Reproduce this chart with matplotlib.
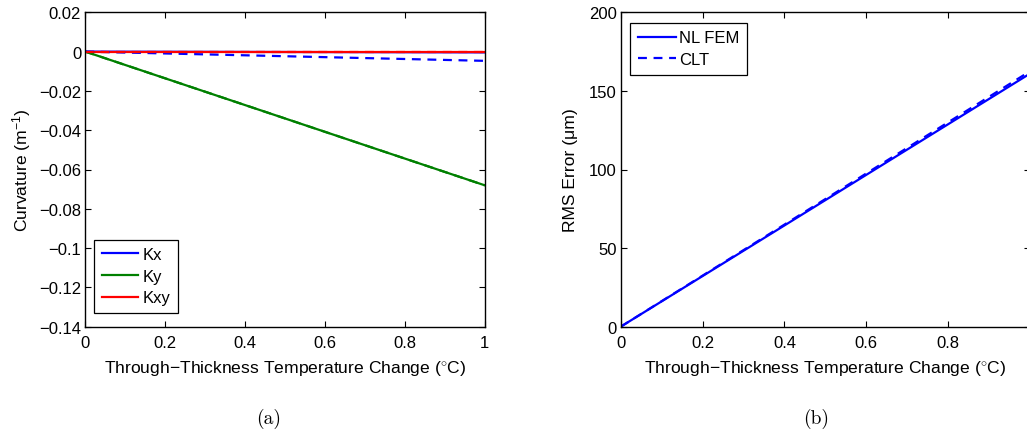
import matplotlib
matplotlib.use("Agg")
import matplotlib.pyplot as plt

# Temperature change (deg C)
temp_change = [0.0, 0.25, 0.5, 0.75, 1.0]

# Curvatures (1/m): nonlinear FEM (solid) and classical laminate theory (dashed)
kx_fem = [0.0, -0.0001, -0.0002, -0.0003, -0.0004]
ky_fem = [0.0, -0.017, -0.034, -0.051, -0.068]
kxy_fem = [0.0, 0.0, 0.0, 0.0, 0.0]
kx_clt = [0.0, -0.00118, -0.00235, -0.00353, -0.0047]
ky_clt = [0.0, -0.017, -0.034, -0.051, -0.068]
kxy_clt = [0.0, 0.0, 0.0, 0.0, 0.0]

# RMS surface error (micrometres)
rms_fem = [0.0, 40.25, 80.5, 120.75, 161.0]
rms_clt = [0.0, 40.6, 81.2, 121.9, 162.5]

curv_ticks = [0.02, 0, -0.02, -0.04, -0.06, -0.08, -0.1, -0.12, -0.14]
curv_ticklabels = ["0.02", "0", "\u22120.02", "\u22120.04", "\u22120.06",
                   "\u22120.08", "\u22120.1", "\u22120.12", "\u22120.14"]
x_ticks_a = [0, 0.2, 0.4, 0.6, 0.8, 1]
x_ticklabels_a = ["0", "0.2", "0.4", "0.6", "0.8", "1"]
x_ticks_b = [0, 0.2, 0.4, 0.6, 0.8]
x_ticklabels_b = ["0", "0.2", "0.4", "0.6", "0.8"]
rms_ticks = [0, 50, 100, 150, 200]

plt.rcParams["font.family"] = ["Liberation Sans", "DejaVu Sans"]
plt.rcParams["mathtext.fontset"] = "custom"
plt.rcParams["mathtext.rm"] = "Liberation Sans"
plt.rcParams["mathtext.it"] = "Liberation Sans:italic"

W, H = 1027, 435
fig = plt.figure(figsize=(W / 100, H / 100), dpi=100)

TICK_FS = 12
LABEL_FS = 12.6
LEG_FS = 12

def px_axes(left, top, right, bottom):
    return fig.add_axes([left / W, 1 - bottom / H, (right - left) / W, (bottom - top) / H])

def style(ax):
    ax.tick_params(direction="in", top=True, right=True, length=4.5, width=0.8,
                   labelsize=TICK_FS, pad=3)
    ax.tick_params(axis="x", pad=6)
    for s in ax.spines.values():
        s.set_linewidth(1.0)

blue, green, red = "#0000ff", "#008000", "#ff0000"
xlabel = "Through\u2212Thickness Temperature Change ($^{\\circ}$C)"

# (a) curvature
ax1 = px_axes(85.3, 13.3, 484.5, 327.7)
ax1.plot(temp_change, kx_fem, color=blue, lw=1.6, label="Kx")
ax1.plot(temp_change, ky_fem, color=green, lw=1.6, label="Ky")
ax1.plot(temp_change, kxy_fem, color=red, lw=1.6, label="Kxy")
ax1.plot(temp_change, kx_clt, color=blue, lw=1.6, ls=(0, (4, 3)))
ax1.plot(temp_change, ky_clt, color=green, lw=1.6, ls=(0, (4, 3)))
ax1.plot(temp_change, kxy_clt, color=red, lw=1.6, ls=(0, (4, 3)))
ax1.set_xlim(0, 1)
ax1.set_ylim(-0.14, 0.02)
ax1.set_xticks(x_ticks_a, x_ticklabels_a)
ax1.set_yticks(curv_ticks, curv_ticklabels)
ax1.set_xlabel(xlabel, fontsize=LABEL_FS, labelpad=6)
ax1.set_ylabel("Curvature (m$^{-1}$)", fontsize=LABEL_FS, labelpad=4)
style(ax1)
leg1 = ax1.legend(loc="lower left", bbox_to_anchor=(0.022, 0.044), fancybox=False,
                  edgecolor="black", framealpha=1, fontsize=LEG_FS, handlelength=2.2,
                  handletextpad=0.25, borderpad=0.45, labelspacing=0.4,
                  borderaxespad=0)
leg1.get_frame().set_linewidth(0.9)

# (b) RMS error
ax2 = px_axes(620.7, 13.3, 1030.0, 327.7)
ax2.plot(temp_change, rms_fem, color=blue, lw=1.6, label="NL FEM")
ax2.plot(temp_change, rms_clt, color=blue, lw=1.6, ls=(0, (4, 3)), label="CLT")
ax2.set_xlim(0, 1)
ax2.set_ylim(0, 200)
ax2.set_xticks(x_ticks_b, x_ticklabels_b)
ax2.set_yticks(rms_ticks)
ax2.set_xlabel(xlabel, fontsize=LABEL_FS, labelpad=6)
ax2.set_ylabel("RMS Error (\u03bcm)", fontsize=LABEL_FS, labelpad=8)
style(ax2)
leg2 = ax2.legend(loc="upper left", bbox_to_anchor=(0.023, 0.966), fancybox=False,
                  edgecolor="black", framealpha=1, fontsize=LEG_FS, handlelength=2.3,
                  handletextpad=0.2, borderpad=0.45, labelspacing=0.4,
                  borderaxespad=0)
leg2.get_frame().set_linewidth(0.9)

# panel captions
fig.text(269 / W, 1 - 419 / H, "(a)", family=["cmr10", "DejaVu Serif"], fontsize=14,
         ha="center", va="center")
fig.text(816 / W, 1 - 419 / H, "(b)", family=["cmr10", "DejaVu Serif"], fontsize=14,
         ha="center", va="center")

fig.savefig("out.png", dpi=100)
